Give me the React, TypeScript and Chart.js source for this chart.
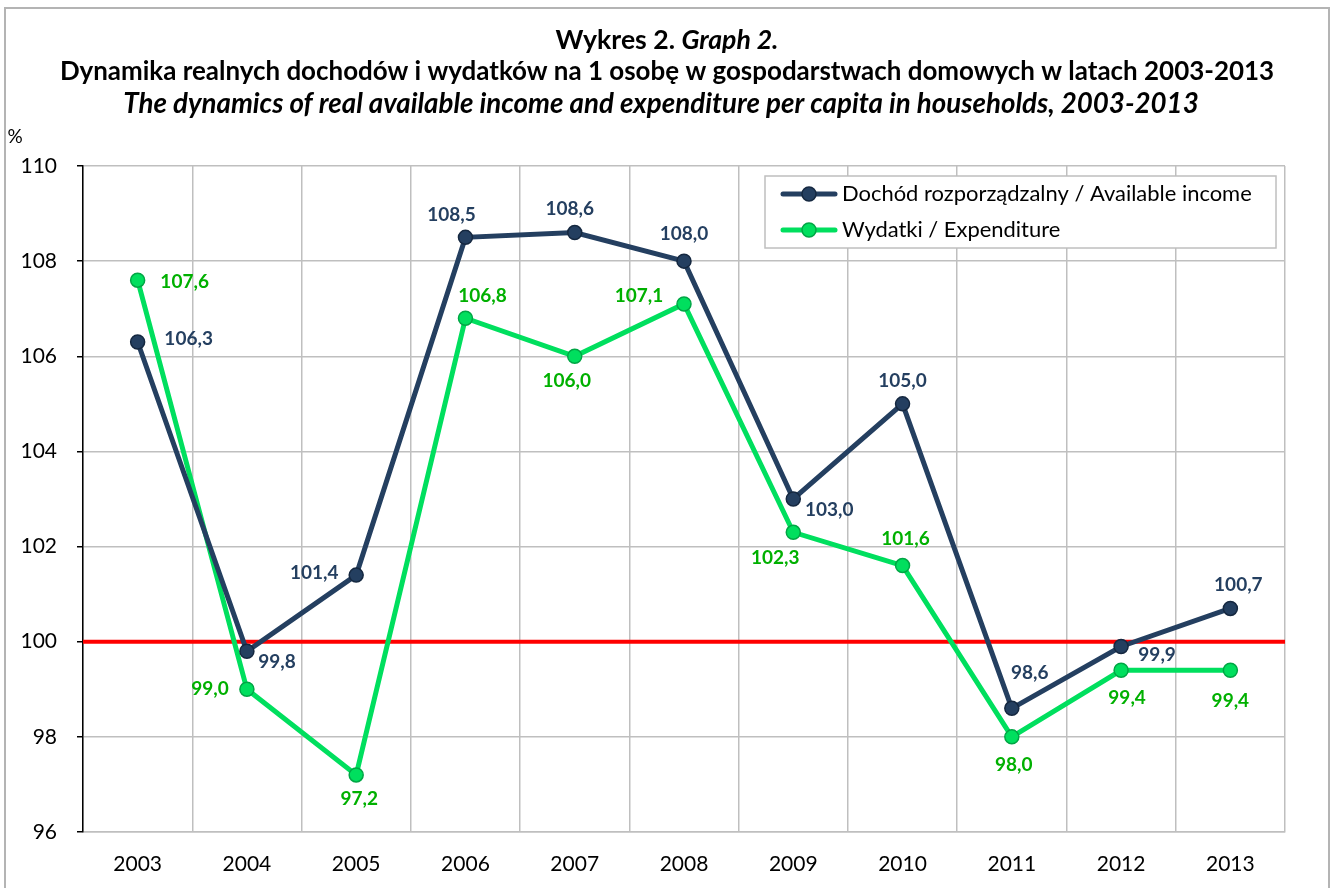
import React, { useEffect, useRef } from "react";
import { Chart, registerables } from "chart.js";

Chart.register(...registerables);

const years = ["2003", "2004", "2005", "2006", "2007", "2008", "2009", "2010", "2011", "2012", "2013"];
const incomeValues = [106.3, 99.8, 101.4, 108.5, 108.6, 108.0, 103.0, 105.0, 98.6, 99.9, 100.7];
const expenditureValues = [107.6, 99.0, 97.2, 106.8, 106.0, 107.1, 102.3, 101.6, 98.0, 99.4, 99.4];
const yMin = 96;
const yMax = 110;
const yStep = 2;
const referenceLevel = 100;

const incomeLabel = "Dochód rozporządzalny / Available income";
const expenditureLabel = "Wydatki / Expenditure";
const titleLine1a = "Wykres 2. ";
const titleLine1b = "Graph 2.";
const titleLine2 = "Dynamika realnych dochodów i wydatków na 1 osobę w gospodarstwach domowych w latach 2003-2013";
const titleLine3 = "The dynamics of real available income and expenditure per capita in households, 2003-2013";
const unitLabel = "%";

// label placement offsets (style: pixel offsets of each value label from its point)
const incomeLabelOffsets: [number, number][] = [
  [51, -3], [30, 11], [-42, -2], [-14, -22], [-5, -24], [0, -27], [36, 11], [0, -23], [18, -35], [36, 8], [8, -24],
];
const expenditureLabelOffsets: [number, number][] = [
  [47, 2], [-37, 0], [3, 24], [17, -22], [-8, 25], [-45, -8], [-18, 26], [3, -27], [2, 28], [6, 28], [0, 31],
];

const FONT = "Lato, 'Open Sans', 'DejaVu Sans', sans-serif";
const INCOME_COLOR = "#243F60";
const INCOME_POINT_BORDER = "#152840";
const EXP_COLOR = "#00DF5E";
const EXP_POINT_BORDER = "#00A645";
const EXP_LABEL_COLOR = "#00B000";
const GRID = "#BFBFBF";

function fitSize(ctx: CanvasRenderingContext2D, parts: { text: string; style: string; weight: string }[], target: number) {
  let w = 0;
  for (const p of parts) {
    ctx.font = `${p.style} ${p.weight} 100px ${FONT}`;
    w += ctx.measureText(p.text).width;
  }
  return (100 * target) / w;
}

const fmt = (v: number) => v.toFixed(1).replace(".", ",");

const decorPlugin = {
  id: "decor",
  beforeDatasetsDraw(chart: any) {
    const { ctx, chartArea, scales } = chart;
    const y = scales.y.getPixelForValue(referenceLevel);
    ctx.save();
    ctx.strokeStyle = "#FF0000";
    ctx.lineWidth = 4;
    ctx.beginPath();
    ctx.moveTo(chartArea.left, y);
    ctx.lineTo(chartArea.right, y);
    ctx.stroke();
    ctx.restore();
  },
  afterDraw(chart: any) {
    const { ctx } = chart;
    ctx.save();

    // outer border
    ctx.strokeStyle = "#B4B4B4";
    ctx.lineWidth = 2;
    ctx.strokeRect(5, 8, 1324, 900);

    // titles
    ctx.fillStyle = "#000";
    ctx.textBaseline = "middle";
    const s1 = fitSize(ctx, [
      { text: titleLine1a, style: "normal", weight: "bold" },
      { text: titleLine1b, style: "italic", weight: "bold" },
    ], 223);
    ctx.font = `normal bold ${s1}px ${FONT}`;
    const wA = ctx.measureText(titleLine1a).width;
    ctx.font = `italic bold ${s1}px ${FONT}`;
    const wB = ctx.measureText(titleLine1b).width;
    const x1 = 667 - (wA + wB) / 2;
    ctx.textAlign = "left";
    ctx.font = `normal bold ${s1}px ${FONT}`;
    ctx.fillText(titleLine1a, x1, 40);
    ctx.font = `italic bold ${s1}px ${FONT}`;
    ctx.fillText(titleLine1b, x1 + wA, 40);

    ctx.textAlign = "center";
    const s2 = fitSize(ctx, [{ text: titleLine2, style: "normal", weight: "bold" }], 1215);
    ctx.font = `normal bold ${s2}px ${FONT}`;
    ctx.fillText(titleLine2, 667, 72);
    const s3 = fitSize(ctx, [{ text: titleLine3, style: "italic", weight: "bold" }], 1076);
    ctx.font = `italic bold ${s3}px ${FONT}`;
    ctx.fillText(titleLine3, 661, 104);

    ctx.font = `normal normal 19px ${FONT}`;
    ctx.fillText(unitLabel, 15, 137);

    // data labels
    const drawLabels = (dsIndex: number, values: number[], offsets: [number, number][], color: string) => {
      const meta = chart.getDatasetMeta(dsIndex);
      ctx.font = `normal bold 19px ${FONT}`;
      ctx.fillStyle = color;
      ctx.textAlign = "center";
      ctx.textBaseline = "middle";
      meta.data.forEach((pt: any, i: number) => {
        const [dx, dy] = offsets[i];
        ctx.fillText(fmt(values[i]), pt.x + dx, pt.y + dy);
      });
    };
    drawLabels(0, incomeValues, incomeLabelOffsets, INCOME_COLOR);
    drawLabels(1, expenditureValues, expenditureLabelOffsets, EXP_LABEL_COLOR);

    // legend
    const lx = 765, ly = 176, lw = 511, lh = 72;
    ctx.fillStyle = "#fff";
    ctx.fillRect(lx, ly, lw, lh);
    ctx.strokeStyle = GRID;
    ctx.lineWidth = 1.5;
    ctx.strokeRect(lx, ly, lw, lh);
    const ls = fitSize(ctx, [{ text: incomeLabel, style: "normal", weight: "normal" }], 410);
    const entries = [
      { label: incomeLabel, line: INCOME_COLOR, fill: INCOME_COLOR, border: INCOME_POINT_BORDER, y: 194 },
      { label: expenditureLabel, line: EXP_COLOR, fill: EXP_COLOR, border: EXP_POINT_BORDER, y: 230 },
    ];
    for (const e of entries) {
      ctx.strokeStyle = e.line;
      ctx.lineWidth = 5;
      ctx.lineCap = "round";
      ctx.beginPath();
      ctx.moveTo(783, e.y);
      ctx.lineTo(835, e.y);
      ctx.stroke();
      ctx.beginPath();
      ctx.arc(809, e.y, 7, 0, Math.PI * 2);
      ctx.fillStyle = e.fill;
      ctx.fill();
      ctx.lineWidth = 1.5;
      ctx.strokeStyle = e.border;
      ctx.stroke();
      ctx.fillStyle = "#000";
      ctx.textAlign = "left";
      ctx.textBaseline = "middle";
      ctx.font = `normal normal ${ls}px ${FONT}`;
      ctx.fillText(e.label, 842, e.y);
    }
    ctx.restore();
  },
};

export default function App() {
  const ref = useRef<HTMLCanvasElement | null>(null);
  useEffect(() => {
    if (!ref.current) return;
    const chart = new Chart(ref.current, {
      type: "line",
      data: {
        labels: years,
        datasets: [
          {
            label: incomeLabel,
            data: incomeValues,
            borderColor: INCOME_COLOR,
            backgroundColor: INCOME_COLOR,
            borderWidth: 5,
            pointRadius: 7,
            pointBackgroundColor: INCOME_COLOR,
            pointBorderColor: INCOME_POINT_BORDER,
            pointBorderWidth: 1.5,
            tension: 0,
          },
          {
            label: expenditureLabel,
            data: expenditureValues,
            borderColor: EXP_COLOR,
            backgroundColor: EXP_COLOR,
            borderWidth: 5,
            pointRadius: 7,
            pointBackgroundColor: EXP_COLOR,
            pointBorderColor: EXP_POINT_BORDER,
            pointBorderWidth: 1.5,
            tension: 0,
          },
        ],
      },
      options: {
        responsive: false,
        animation: false,
        layout: { padding: { top: 166, right: 49, left: 0, bottom: 0 } },
        plugins: {
          legend: { display: false },
          title: { display: false },
          tooltip: { enabled: false },
        },
        scales: {
          x: {
            offset: true,
            grid: { offset: true, color: GRID, lineWidth: 1.5, drawTicks: false },
            border: { color: GRID, width: 1.5 },
            ticks: { color: "#000", font: { family: FONT, size: 21 }, padding: 20, maxRotation: 0 },
            afterFit: (scale: any) => {
              scale.height = 56;
            },
          },
          y: {
            min: yMin,
            max: yMax,
            grid: { color: GRID, lineWidth: 1.5, tickColor: "#000", tickLength: 6 },
            border: { color: "#000", width: 1.5 },
            ticks: {
              stepSize: yStep,
              color: "#000",
              font: { family: FONT, size: 21 },
              padding: 20,
              callback: (v: any) => String(v),
            },
            afterFit: (scale: any) => {
              scale.width = 83;
            },
          },
        },
      },
      plugins: [decorPlugin],
    });
    return () => chart.destroy();
  }, []);
  return (
    <div style={{ position: "absolute", left: 0, top: 0, width: 1334, height: 888, background: "#fff" }}>
      <canvas ref={ref} width={1334} height={888} style={{ display: "block" }} />
    </div>
  );
}
